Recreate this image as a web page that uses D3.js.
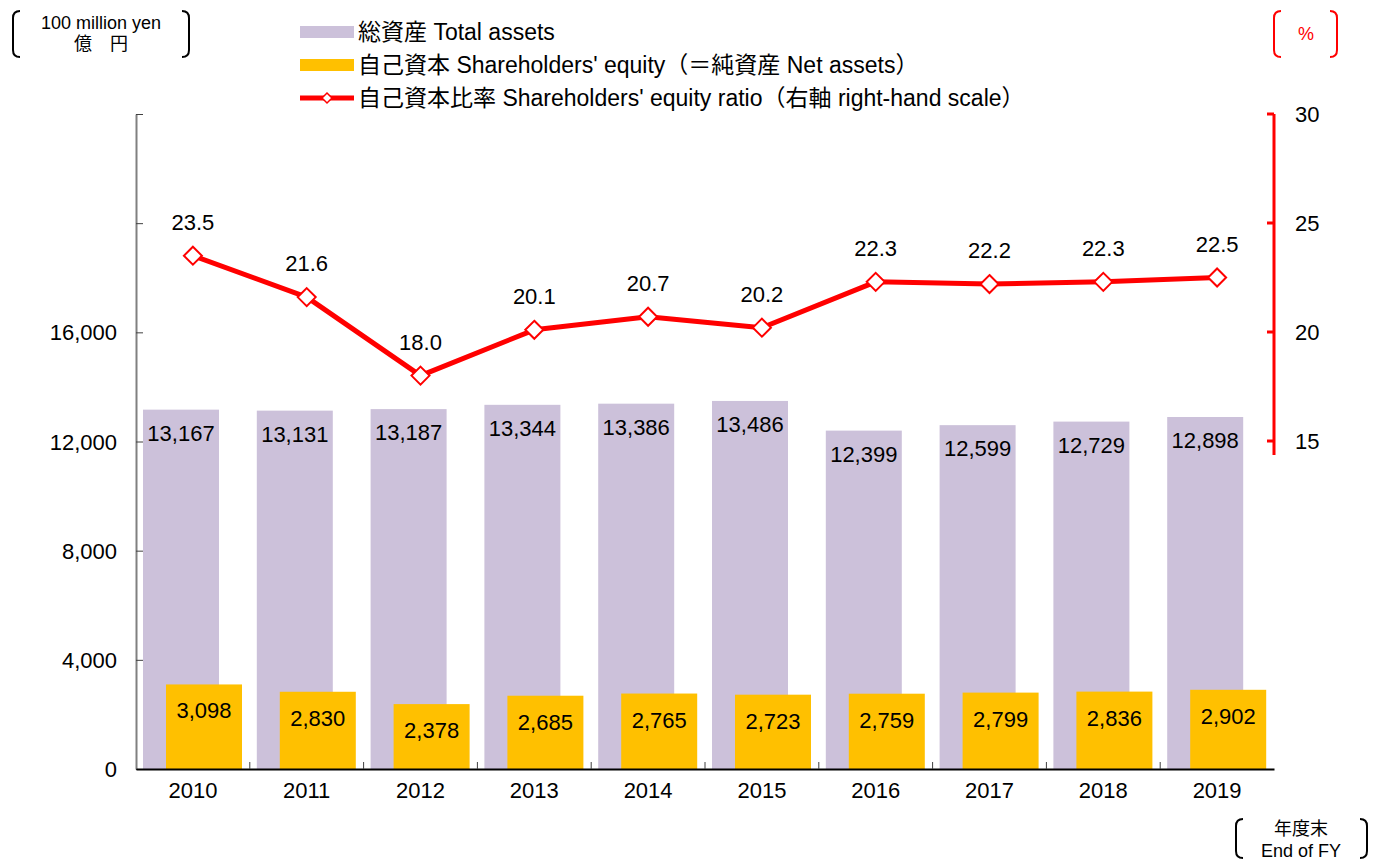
<!DOCTYPE html>
<html>
<head>
<meta charset="utf-8">
<script src="https://cdn.jsdelivr.net/npm/d3@7/dist/d3.min.js"></script>
<style>
  body { margin: 0; background: #fff; }
  svg { display: block; font-family: "Liberation Sans", Arial, "Noto Sans CJK JP", sans-serif; }
</style>
</head>
<body>
<svg id="chart" width="1373" height="861"></svg>
<script>
const years = ['2010', '2011', '2012', '2013', '2014', '2015', '2016', '2017', '2018', '2019']
const totalAssets = [13167, 13131, 13187, 13344, 13386, 13486, 12399, 12599, 12729, 12898]
const equity = [3098, 2830, 2378, 2685, 2765, 2723, 2759, 2799, 2836, 2902]
const equityRatio = [23.5, 21.6, 18.0, 20.1, 20.7, 20.2, 22.3, 22.2, 22.3, 22.5]
const leftTicks = [0, 4000, 8000, 12000, 16000, 20000, 24000]
const leftLabels = [0, 4000, 8000, 12000, 16000]
const rightTicks = [15, 20, 25, 30]

const svg = d3.select('#chart')
const plotLeft = 136, plotRight = 1274, plotTop = 114, plotBottom = 769
const fmt = d3.format(',')
const fs = 22

const x = d3.scaleBand().domain(years).range([plotLeft, plotRight])
const y = d3.scaleLinear().domain([0, 24000]).range([plotBottom, plotTop])
const yR = d3.scaleLinear().domain([15, 30]).range([441, plotTop])

const barW = 76
const purple = '#CCC1DA', gold = '#FFC000', red = '#FF0000'

// total assets bars
svg.append('g').selectAll('rect')
  .data(years).enter().append('rect')
  .attr('x', d => x(d) + 7)
  .attr('y', (d, i) => y(totalAssets[i]))
  .attr('width', barW)
  .attr('height', (d, i) => plotBottom - y(totalAssets[i]))
  .attr('fill', purple)

// equity bars
svg.append('g').selectAll('rect')
  .data(years).enter().append('rect')
  .attr('x', d => x(d) + 30)
  .attr('y', (d, i) => y(equity[i]))
  .attr('width', barW)
  .attr('height', (d, i) => plotBottom - y(equity[i]))
  .attr('fill', gold)

// bar labels
svg.append('g').selectAll('text')
  .data(years).enter().append('text')
  .attr('x', d => x(d) + 7 + barW / 2)
  .attr('y', (d, i) => y(totalAssets[i]) + 31)
  .attr('text-anchor', 'middle')
  .attr('font-size', fs)
  .text((d, i) => fmt(totalAssets[i]))

svg.append('g').selectAll('text')
  .data(years).enter().append('text')
  .attr('x', d => x(d) + 30 + barW / 2)
  .attr('y', (d, i) => y(equity[i]) + 34)
  .attr('text-anchor', 'middle')
  .attr('font-size', fs)
  .text((d, i) => fmt(equity[i]))

// left axis
const leftAxis = svg.append('g')
  .attr('transform', `translate(${plotLeft},0)`)
  .call(d3.axisLeft(y).tickValues(leftTicks).tickSize(-7).tickSizeOuter(0).tickFormat(''))
leftAxis.select('.domain').attr('stroke', '#808080').attr('stroke-width', 2)
leftAxis.selectAll('.tick line').attr('stroke', '#404040')
svg.append('g').selectAll('text')
  .data(leftLabels).enter().append('text')
  .attr('x', 117)
  .attr('y', d => y(d) + 8)
  .attr('text-anchor', 'end')
  .attr('font-size', fs)
  .text(d => fmt(d))

// x axis
const xAxis = svg.append('g')
  .attr('transform', `translate(0,${plotBottom})`)
  .call(d3.axisBottom(x).tickSize(0).tickPadding(0))
xAxis.select('.domain').attr('stroke', '#000').attr('stroke-width', 2)
xAxis.selectAll('.tick text').attr('font-size', fs).attr('fill', '#000').attr('dy', 29)
  .attr('font-family', '"Liberation Sans", Arial, sans-serif')
svg.append('g').selectAll('line')
  .data(years.slice(1)).enter().append('line')
  .attr('x1', d => x(d)).attr('x2', d => x(d))
  .attr('y1', plotBottom - 7).attr('y2', plotBottom)
  .attr('stroke', '#404040')

// right axis
svg.append('line')
  .attr('x1', plotRight).attr('x2', plotRight)
  .attr('y1', yR(30)).attr('y2', yR(15) + 14)
  .attr('stroke', red).attr('stroke-width', 3)
svg.append('g').selectAll('line')
  .data(rightTicks).enter().append('line')
  .attr('x1', plotRight - 7).attr('x2', plotRight)
  .attr('y1', d => yR(d)).attr('y2', d => yR(d))
  .attr('stroke', red).attr('stroke-width', 3)
svg.append('g').selectAll('text')
  .data(rightTicks).enter().append('text')
  .attr('x', 1295)
  .attr('y', d => yR(d) + 8)
  .attr('font-size', fs)
  .text(d => d)

// ratio line
const cx = d => x(d) + x.bandwidth() / 2
const line = d3.line().x(d => cx(d.year)).y(d => yR(d.v))
const ratioData = years.map((yr, i) => ({ year: yr, v: equityRatio[i] }))
svg.append('path')
  .datum(ratioData)
  .attr('d', line)
  .attr('fill', 'none')
  .attr('stroke', red)
  .attr('stroke-width', 5)
  .attr('stroke-linejoin', 'round')

const diamond = 'M0,-9L9,0L0,9L-9,0Z'
svg.append('g').selectAll('path')
  .data(ratioData).enter().append('path')
  .attr('d', diamond)
  .attr('transform', d => `translate(${cx(d.year)},${yR(d.v)})`)
  .attr('fill', '#fff')
  .attr('stroke', red)
  .attr('stroke-width', 2)

svg.append('g').selectAll('text')
  .data(ratioData).enter().append('text')
  .attr('x', d => cx(d.year))
  .attr('y', d => yR(d.v) - 26)
  .attr('text-anchor', 'middle')
  .attr('font-size', fs)
  .text(d => d.v.toFixed(1))

// legend
const legend = svg.append('g')
legend.append('rect').attr('x', 300).attr('y', 26).attr('width', 54).attr('height', 12).attr('fill', purple)
legend.append('rect').attr('x', 300).attr('y', 59).attr('width', 54).attr('height', 12).attr('fill', gold)
legend.append('line').attr('x1', 300).attr('x2', 354).attr('y1', 98).attr('y2', 98)
  .attr('stroke', red).attr('stroke-width', 5)
legend.append('path').attr('d', 'M0,-5L5,0L0,5L-5,0Z')
  .attr('transform', 'translate(327,98)')
  .attr('fill', '#fff').attr('stroke', red).attr('stroke-width', 1.5)
const legendText = ['総資産 Total assets',
  '自己資本 Shareholders\' equity（＝純資産 Net assets）',
  '自己資本比率 Shareholders\' equity ratio（右軸 right-hand scale）']
legend.selectAll('text')
  .data(legendText).enter().append('text')
  .attr('x', 358)
  .attr('y', (d, i) => 40 + i * 33)
  .attr('font-size', 23)
  .text(d => d)

// bracket helper
function bracket(x0, x1, y0, y1, color) {
  const r = 7
  svg.append('path')
    .attr('d', `M${x0 + r},${y0} Q${x0},${y0} ${x0},${y0 + r} L${x0},${y1 - r} Q${x0},${y1} ${x0 + r},${y1}`)
    .attr('fill', 'none').attr('stroke', color).attr('stroke-width', 2)
  svg.append('path')
    .attr('d', `M${x1 - r},${y0} Q${x1},${y0} ${x1},${y0 + r} L${x1},${y1 - r} Q${x1},${y1} ${x1 - r},${y1}`)
    .attr('fill', 'none').attr('stroke', color).attr('stroke-width', 2)
}

bracket(13, 189, 11, 57, '#000')
svg.append('text').attr('x', 101).attr('y', 29).attr('text-anchor', 'middle').attr('font-size', 18).text('100 million yen')
svg.append('text').attr('x', 101).attr('y', 50).attr('text-anchor', 'middle').attr('font-size', 18).text('億　円')

bracket(1274, 1337, 11, 57, red)
svg.append('text').attr('x', 1306).attr('y', 40).attr('text-anchor', 'middle').attr('font-size', 18).attr('fill', red).text('%')

bracket(1236, 1367, 819, 858, '#000')
svg.append('text').attr('x', 1301).attr('y', 835).attr('text-anchor', 'middle').attr('font-size', 18).text('年度末')
svg.append('text').attr('x', 1301).attr('y', 857).attr('text-anchor', 'middle').attr('font-size', 18).text('End of FY')
</script>
</body>
</html>
